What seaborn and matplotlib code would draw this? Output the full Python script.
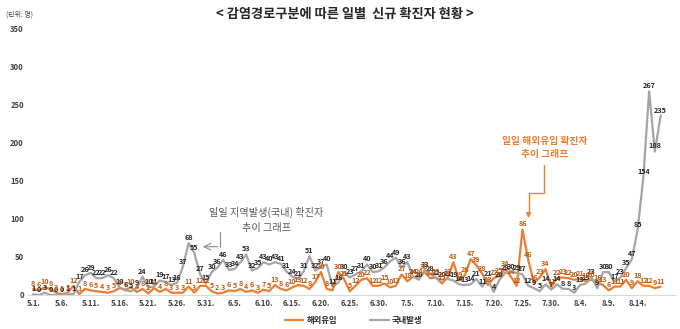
import numpy as np
import pandas as pd
import matplotlib
matplotlib.use("Agg")
import matplotlib.pyplot as plt
import seaborn as sns
from matplotlib.lines import Line2D

# ---- data ----
dates = pd.date_range("2020-05-01", "2020-08-18", freq="D")
domestic = [
    # May
    1, 0, 3, 0, 0, 0, 1, 1, 17, 26, 29, 22, 22, 26, 22, 10, 6, 5, 9, 24,
    10, 11, 19, 17, 13, 16, 37, 68, 55, 27, 15,
    # June
    30, 36, 46, 33, 34, 43, 53, 32, 35, 43, 40, 43, 41, 31, 24, 21, 31, 51, 32, 37,
    40, 11, 16, 30, 23, 27, 31, 40, 30, 31,
    # July
    36, 44, 49, 36, 43, 24, 20, 33, 28, 22, 20, 21, 19, 14, 13, 14, 21, 11, 21, 4,
    20, 29, 30, 29, 27, 12, 9, 5, 14, 7, 14,
    # August
    8, 8, 3, 13, 15, 23, 9, 30, 30, 17, 23, 35, 47, 85, 154, 267, 188, 235,
]
imported = [
    # May
    8, 6, 10, 8, 3, 1, 3, 12, 1, 8, 6, 5, 4, 3, 5, 9, 7, 10, 4, 8,
    2, 9, 4, 8, 3, 3, 3, 11, 3, 12, 12,
    # June
    5, 2, 3, 6, 5, 8, 4, 6, 3, 7, 5, 13, 8, 6, 10, 13, 12, 8, 17, 30,
    8, 6, 30, 21, 5, 12, 20, 22, 12, 12,
    # July
    15, 10, 12, 27, 18, 24, 24, 30, 22, 23, 15, 23, 43, 19, 26, 47, 39, 28, 13, 22,
    25, 34, 24, 12, 86, 46, 16, 23, 34, 11, 22,
    # August
    23, 22, 20, 21, 18, 20, 16, 13, 6, 11, 11, 20, 9, 18, 12, 12, 9, 11,
]
series_names = ["해외유입", "국내발생"]
series_colors = ["#ED7D31", "#A5A5A5"]
label_colors = ["#C55A11", "#262626"]
yticks = [0, 50, 100, 150, 200, 250, 300, 350]

day = np.arange(len(dates))
df = pd.concat([
    pd.DataFrame({"day": day, "value": imported, "구분": series_names[0]}),
    pd.DataFrame({"day": day, "value": domestic, "구분": series_names[1]}),
])

sns.set_theme(style="white")
plt.rcParams["font.family"] = ["Noto Sans CJK KR", "DejaVu Sans"]

W, H = 680, 329
fig = plt.figure(figsize=(W / 100, H / 100), dpi=100)
ax = fig.add_axes([28 / W, (H - 295) / H, (675 - 28) / W, (295 - 28) / H])

sns.lineplot(data=df, x="day", y="value", hue="구분", hue_order=series_names,
             palette=series_colors, linewidth=1.6, ax=ax, legend=False)

# data labels
for vals, col in [(domestic, label_colors[1]), (imported, label_colors[0])]:
    for d, v in zip(day, vals):
        ax.annotate(str(v), (d, v), xytext=(0, 1.5), textcoords="offset points",
                    ha="center", va="bottom", fontsize=5.2, fontweight="bold",
                    color=col)

ax.set_xlim(-0.9, 111.5)
ax.set_ylim(0, 350)
ax.set_yticks(yticks)
ax.set_yticklabels([str(t) for t in yticks], fontsize=5.5, fontweight="bold", color="#404040")
xt = day[::5]
ax.set_xticks(xt)
ax.set_xticklabels([f"{dates[i].month}.{dates[i].day}." for i in xt],
                   fontsize=5.5, fontweight="bold", color="#404040")
ax.tick_params(axis="both", length=0, pad=3)
ax.set_xlabel("")
ax.set_ylabel("")
for s in ["top", "right", "left"]:
    ax.spines[s].set_visible(False)
ax.spines["bottom"].set_color("#D9D9D9")
ax.spines["bottom"].set_linewidth(0.8)

# annotations: domestic trend
ax.text(40.5, 108, "일일 지역발생(국내) 확진자", ha="center", va="center",
        fontsize=7.3, color="#595959")
ax.text(40.5, 88, "추이 그래프", ha="center", va="center", fontsize=7.3, color="#595959")
ax.plot([32.5, 32.5], [82, 63.3], color="#8C8C8C", lw=0.8)
ax.annotate("", xy=(29.0, 63.3), xytext=(32.6, 63.3),
            arrowprops=dict(arrowstyle="->", color="#8C8C8C", lw=0.8))

# annotations: imported trend
ax.text(88.8, 202, "일일 해외유입 확진자", ha="center", va="center",
        fontsize=7, color="#ED7D31", fontweight="bold")
ax.text(88.8, 185, "추이 그래프", ha="center", va="center", fontsize=7,
        color="#ED7D31", fontweight="bold")
ax.plot([88.8, 88.8, 86.06, 86.06], [171, 133.7, 133.7, 110], color="#ED7D31", lw=1.0)
ax.annotate("", xy=(86.06, 97), xytext=(86.06, 112),
            arrowprops=dict(arrowstyle="-|>", color="#ED7D31", lw=1.0, mutation_scale=7))

fig.text(0.507, 1 - 14 / H, "< 감염경로구분에 따른 일별  신규 확진자 현황 >",
         ha="center", va="center", fontsize=9.5, fontweight="bold", color="#262626")
fig.text(6 / W, 1 - 15 / H, "(단위: 명)", ha="left", va="center", fontsize=5, color="#404040")

handles = [Line2D([], [], color=c, lw=1.6) for c in series_colors]
fig.legend(handles, series_names, loc="center", bbox_to_anchor=(0.52, 1 - 320 / H),
           ncol=2, frameon=False, handlelength=2.2, columnspacing=4,
           handletextpad=0.4, prop={"weight": "bold", "size": 6})

fig.savefig("out.png", dpi=100)
